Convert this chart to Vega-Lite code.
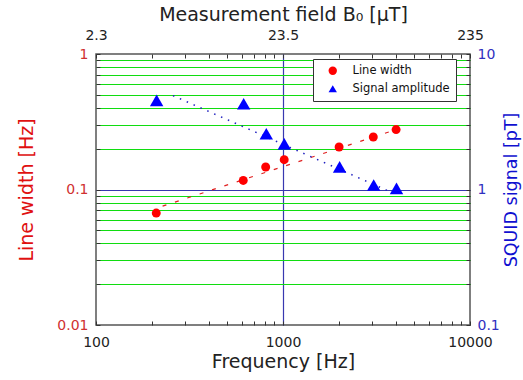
{
  "$schema": "https://vega.github.io/schema/vega-lite/v6.json",
  "width": 374,
  "height": 271,
  "autosize": {"type": "none"},
  "padding": {"left": 96, "top": 54, "right": 53, "bottom": 55},
  "background": "white",
  "config": {
    "font": "DejaVu Sans",
    "view": {"stroke": "#555555", "strokeWidth": 1.5},
    "axis": {
      "domain": false,
      "labelFont": "DejaVu Sans",
      "titleFont": "DejaVu Sans",
      "labelFontSize": 14,
      "titleFontSize": 19,
      "titleFontWeight": "normal",
      "tickColor": "#333333",
      "tickSize": -4,
      "labelOverlap": false,
      "labelFlush": false
    }
  },
  "datasets": {
    "lw": [
      {"f": 210, "v": 0.067, "series": "Line width"},
      {"f": 613, "v": 0.1166, "series": "Line width"},
      {"f": 808, "v": 0.1465, "series": "Line width"},
      {"f": 1015, "v": 0.166, "series": "Line width"},
      {"f": 1995, "v": 0.206, "series": "Line width"},
      {"f": 3040, "v": 0.244, "series": "Line width"},
      {"f": 4025, "v": 0.277, "series": "Line width"}
    ],
    "amp": [
      {"f": 211, "v": 4.55, "series": "Signal amplitude"},
      {"f": 616, "v": 4.29, "series": "Signal amplitude"},
      {"f": 814, "v": 2.58, "series": "Signal amplitude"},
      {"f": 1016, "v": 2.17, "series": "Signal amplitude"},
      {"f": 2008, "v": 1.47, "series": "Signal amplitude"},
      {"f": 3055, "v": 1.08, "series": "Signal amplitude"},
      {"f": 4045, "v": 1.02, "series": "Signal amplitude"}
    ],
    "lwfit": [
      {"f": 227, "v": 0.0754},
      {"f": 3970, "v": 0.275}
    ],
    "ampfit": [
      {"f": 258, "v": 4.93},
      {"f": 3730, "v": 0.964}
    ]
  },
  "layer": [
    {
      "encoding": {
        "x": {
          "field": "f", "type": "quantitative",
          "scale": {"type": "log", "domain": [100, 10000], "nice": false},
          "axis": {
            "orient": "bottom",
            "values": [100, 200, 300, 400, 500, 600, 700, 800, 900, 1000, 2000, 3000, 4000, 5000, 6000, 7000, 8000, 9000, 10000],
            "labelExpr": "datum.value === 100 ? '100' : datum.value === 1000 ? '1000' : datum.value === 10000 ? '10000' : ''",
            "grid": true,
            "gridColor": {"condition": {"test": "datum.value === 1000", "value": "#3838b0"}, "value": "transparent"},
            "gridWidth": 1.2,
            "labelColor": "#222222",
            "title": "Frequency [Hz]",
            "titleColor": "#222222",
            "labelPadding": 14,
            "titlePadding": 3
          }
        },
        "y": {
          "field": "v", "type": "quantitative",
          "scale": {"type": "log", "domain": [0.01, 1], "nice": false},
          "axis": {
            "orient": "left",
            "values": [0.01, 0.02, 0.03, 0.04, 0.05, 0.06, 0.07, 0.08, 0.09, 0.1, 0.2, 0.3, 0.4, 0.5, 0.6, 0.7, 0.8, 0.9, 1],
            "labelExpr": "datum.value === 0.01 ? '0.01' : datum.value === 0.1 ? '0.1' : datum.value === 1 ? '1' : ''",
            "grid": true,
            "gridColor": {"condition": [{"test": "datum.value === 0.1", "value": "#3838b0"}, {"test": "datum.value === 0.01 || datum.value === 1", "value": "transparent"}], "value": "#10dd10"},
            "gridWidth": 1.1,
            "labelColor": "#d03030",
            "title": "Line width [Hz]",
            "titleColor": "#e01010",
            "labelPadding": 12,
            "titlePadding": 20
          }
        }
      },
      "layer": [
        {
          "data": {"name": "lwfit"},
          "mark": {"type": "line", "color": "#e02020", "strokeDash": [4, 9], "strokeWidth": 1.2}
        },
        {
          "data": {"name": "lw"},
          "mark": {"type": "point", "filled": true, "opacity": 1, "size": 80},
          "encoding": {
            "color": {
              "field": "series", "type": "nominal",
              "scale": {"domain": ["Line width", "Signal amplitude"], "range": ["#ff0000", "#0000ff"]},
              "legend": {
                "orient": "none", "legendX": 217, "legendY": 5, "title": null,
                "strokeColor": "#333333", "fillColor": "white", "padding": 6,
                "labelFont": "DejaVu Sans", "labelFontSize": 11.5, "labelColor": "#111111",
                "symbolSize": 70, "symbolOffset": 8, "labelOffset": 14, "rowPadding": 5
              }
            },
            "shape": {
              "field": "series", "type": "nominal",
              "scale": {"domain": ["Line width", "Signal amplitude"], "range": ["circle", "triangle-up"]},
              "legend": {
                "orient": "none", "legendX": 217, "legendY": 5, "title": null,
                "strokeColor": "#333333", "fillColor": "white", "padding": 6,
                "labelFont": "DejaVu Sans", "labelFontSize": 11.5, "labelColor": "#111111",
                "symbolSize": 70, "symbolOffset": 8, "labelOffset": 14, "rowPadding": 5
              }
            }
          }
        }
      ]
    },
    {
      "encoding": {
        "x": {
          "field": "f", "type": "quantitative",
          "scale": {"type": "log", "domain": [100, 10000], "nice": false},
          "axis": {
            "orient": "top",
            "values": [100, 200, 300, 400, 500, 600, 700, 800, 900, 1000, 2000, 3000, 4000, 5000, 6000, 7000, 8000, 9000, 10000],
            "labelExpr": "datum.value === 100 ? '2.3' : datum.value === 1000 ? '23.5' : datum.value === 10000 ? '235' : ''",
            "grid": false,
            "labelColor": "#222222",
            "title": "Measurement field B₀ [μT]",
            "titleColor": "#222222",
            "labelPadding": 16,
            "titlePadding": 4
          }
        },
        "y": {
          "field": "v", "type": "quantitative",
          "scale": {"type": "log", "domain": [0.1, 10], "nice": false},
          "axis": {
            "orient": "right",
            "values": [0.1, 0.2, 0.3, 0.4, 0.5, 0.6, 0.7, 0.8, 0.9, 1, 2, 3, 4, 5, 6, 7, 8, 9, 10],
            "labelExpr": "datum.value === 0.1 ? '0.1' : datum.value === 1 ? '1' : datum.value === 10 ? '10' : ''",
            "grid": false,
            "labelColor": "#3030c0",
            "title": "SQUID signal [pT]",
            "titleColor": "#1010d0",
            "titleFontSize": 17.5,
            "titleAngle": 270,
            "labelPadding": 11,
            "titlePadding": 21
          }
        }
      },
      "layer": [
        {
          "data": {"name": "ampfit"},
          "mark": {"type": "line", "color": "#2020c0", "strokeDash": [1.5, 6], "strokeWidth": 1.5}
        },
        {
          "data": {"name": "amp"},
          "mark": {"type": "point", "filled": true, "opacity": 1, "size": 180},
          "encoding": {
            "color": {"field": "series", "type": "nominal"},
            "shape": {"field": "series", "type": "nominal"}
          }
        }
      ]
    }
  ],
  "resolve": {"scale": {"y": "independent"}, "axis": {"x": "independent"}}
}
